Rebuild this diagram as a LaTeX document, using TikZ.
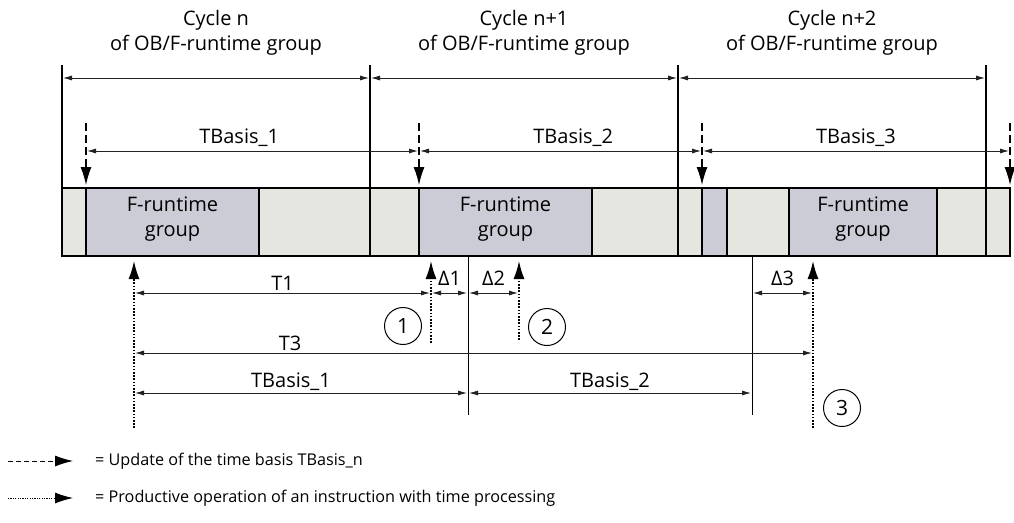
\documentclass[tikz,border=0pt]{standalone}
\usepackage{fontspec}
\setmainfont{Open Sans}
\usetikzlibrary{arrows.meta,positioning,calc}
\definecolor{slotL}{HTML}{E6E6E0}
\definecolor{slotD}{HTML}{CCCCD6}
\definecolor{dimC}{HTML}{222222}

\begin{document}
\begin{tikzpicture}[x=1pt, y=-1pt, >={Latex[length=9pt,width=5pt]},
  dim/.style={<->, line width=0.8pt, draw=dimC, shorten >=1pt, shorten <=1pt},
  upd/.style={-{Latex[length=18pt,width=11pt]}, line width=1.2pt, dash pattern=on 8pt off 4pt},
  prod/.style={-{Latex[length=18pt,width=11pt]}, line width=1.5pt, dash pattern=on 1.6pt off 1.6pt},
  num/.style={draw, circle, line width=1pt, minimum size=37pt, inner sep=0pt, font=\fontsize{21}{21}\selectfont},
  lbl/.style={font=\fontsize{20}{25}\selectfont, align=center, inner sep=1pt},
  leg/.style={font=\fontsize{16.2}{19}\selectfont, anchor=west, inner sep=0pt}]
\useasboundingbox (0,0) rectangle (1014,522);
\coordinate (barT) at (0,188); \coordinate (barB) at (0,256);
\coordinate (tipT) at (0,185); \coordinate (tipB) at (0,261);
\coordinate (cyc) at (0,78); \coordinate (tb) at (0,151);
\coordinate (d1) at (0,293); \coordinate (d3) at (0,353); \coordinate (d4) at (0,393);
\coordinate (c0) at (62,65); \coordinate (c1) at (370,65); \coordinate (c2) at (678,65); \coordinate (c3) at (986,65);
\coordinate (u1) at (86,123); \coordinate (u2) at (419,123); \coordinate (u3) at (702,123); \coordinate (u4) at (1010,123);
\coordinate (p0) at (134,428); \coordinate (p1) at (431,343); \coordinate (p2) at (519,340); \coordinate (p3) at (813,428);
\coordinate (r1) at (468,415); \coordinate (r2) at (752,415);

\filldraw[fill=slotL, line width=1.3pt] (c0 |- barT) rectangle (u4 |- barB);
\filldraw[fill=slotD, line width=1.3pt] (u1 |- barT) rectangle (259,256) (u2 |- barT) rectangle (592,256) (u3 |- barT) rectangle (727,256) (789,188) rectangle (937,256);
\draw[line width=1.3pt] (c0) -- (c0 |- barB) (c1) -- (c1 |- barB) (c2) -- (c2 |- barB) (c3) -- (c3 |- barB);

\node[lbl] (cycN) at (216,32.5) {Cycle n\\of OB/F-runtime group};
\node[lbl] (cycN1) at (524,32.5) {Cycle n+1\\of OB/F-runtime group};
\node[lbl] (cycN2) at (832,32.5) {Cycle n+2\\of OB/F-runtime group};
\draw[dim] (c0 |- cyc) -- (c1 |- cyc);
\draw[dim] (c1 |- cyc) -- (c2 |- cyc);
\draw[dim] (c2 |- cyc) -- (c3 |- cyc);

\draw[upd] (u1) -- (u1 |- tipT);
\draw[upd] (u2) -- (u2 |- tipT);
\draw[upd] (u3) -- (u3 |- tipT);
\draw[upd] (u4) -- (u4 |- tipT);
\draw[dim] (u1 |- tb) -- node[lbl, above=3pt, pos=0.46] (tb1) {TBasis\_1} (u2 |- tb);
\draw[dim] (u2 |- tb) -- node[lbl, above=3pt, pos=0.545] (tb2) {TBasis\_2} (u3 |- tb);
\draw[dim] (u3 |- tb) -- node[lbl, above=3pt] (tb3) {TBasis\_3} (u4 |- tb);

\node[lbl] (fg1) at (172.5,219) {F-runtime\\group};
\node[lbl] (fg2) at (505.5,219) {F-runtime\\group};
\node[lbl] (fg3) at (863,219) {F-runtime\\group};

\draw[line width=0.8pt] (r1) -- (r1 |- barB) (r2) -- (r2 |- barB);
\draw[prod] (p0) -- (p0 |- tipB);
\draw[prod] (p1) -- (p1 |- tipB);
\draw[prod] (p2) -- (p2 |- tipB);
\draw[prod] (p3) -- (p3 |- tipB);

\draw[dim] (p0 |- d1) -- node[lbl, above=1pt] (t1) {T1} (p1 |- d1);
\draw[dim] (p1 |- d1) -- node[lbl, above=6pt] (dl1) {Δ1} (r1 |- d1);
\draw[dim] (r1 |- d1) -- node[lbl, above=6pt] (dl2) {Δ2} (p2 |- d1);
\draw[dim] (r2 |- d1) -- node[lbl, above=6pt] (dl3) {Δ3} (p3 |- d1);
\draw[dim] (p0 |- d3) -- node[lbl, above=1pt, pos=0.23] (t3) {T3} (p3 |- d3);
\draw[dim] (p0 |- d4) -- node[lbl, above=1pt, pos=0.47] (tb1b) {TBasis\_1} (r1 |- d4);
\draw[dim] (r1 |- d4) -- node[lbl, above=1pt] (tb2b) {TBasis\_2} (r2 |- d4);

\node[num] (n1) at (403,326) {1};
\node[num] (n2) at (547,327) {2};
\node[num] (n3) at (842,408) {3};

\coordinate (lgA) at (8,461); \coordinate (lgAe) at (73,461);
\coordinate (lgB) at (8,498); \coordinate (lgBe) at (73,498);
\draw[upd, line width=1pt, dash pattern=on 5pt off 3pt] (lgA) -- (lgAe);
\draw[prod, line width=1pt, dash pattern=on 1.2pt off 1.2pt] (lgB) -- (lgBe);
\node[leg] (lt1) at (95,461) {= Update of the time basis TBasis\_n};
\node[leg] (lt2) at (95,498) {= Productive operation of an instruction with time processing};
\end{tikzpicture}
\end{document}
